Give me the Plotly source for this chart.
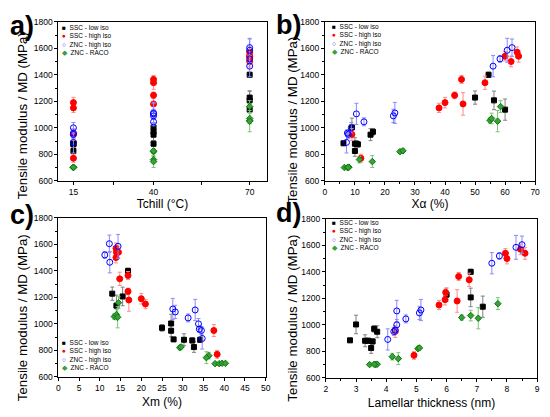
import plotly.graph_objects as go
from plotly.subplots import make_subplots

# Tchill of every sample (same order in all series)
tchill = [15, 15, 15, 15, 40, 40, 40, 40, 70, 70, 70, 70]

series_names = ["SSC - low iso", "SSC - high iso", "ZNC - high iso", "ZNC - RACO"]

# tensile modulus MD (MPa), its error, and the three structural parameters
ssc_low_mod = [883, 825, 880, 875, 1003, 970, 948, 880, 1228, 1400, 1207, 1137]
ssc_low_err = [15, 40, 45, 20, 70, 25, 45, 20, 50, 20, 70, 80]
ssc_low_xa = [6.2, 10.0, 10.0, 11.0, 9.0, 16.0, 15.2, 10.5, 50.0, 54.5, 56.3, 60.0]
ssc_low_xm = [27.8, 32.7, 30.3, 32.3, 27.2, 25.0, 27.2, 34.2, 13.0, 16.8, 15.5, 14.0]
ssc_low_lam = [2.8, 3.5, 3.3, 3.55, 3.0, 3.6, 3.7, 3.4, 6.0, 6.8, 6.8, 7.2]

ssc_high_mod = [1190, 1150, 770, 950, 1365, 1340, 1245, 1180, 1570, 1540, 1540, 1500]
ssc_high_err = [40, 35, 30, 45, 30, 50, 25, 85, 40, 35, 45, 40]
ssc_high_xa = [40.0, 38.0, 12.0, 9.0, 45.5, 53.3, 43.2, 46.0, 64.0, 60.0, 64.5, 62.0]
ssc_high_xm = [20.0, 21.0, 38.3, 37.5, 16.8, 14.8, 16.8, 17.0, 13.9, 14.0, 14.5, 13.9]
ssc_high_lam = [5.95, 5.75, 4.92, 4.3, 6.4, 6.75, 5.97, 6.35, 8.45, 7.95, 8.6, 8.0]

znc_high_mod = [890, 960, 950, 1000, 1105, 1045, 1090, 1112, 1465, 1520, 1585, 1605]
znc_high_err = [80, 25, 30, 40, 80, 30, 50, 80, 80, 25, 90, 65]
znc_high_xa = [7.2, 7.5, 7.8, 8.8, 10.5, 13.0, 22.8, 23.3, 56.0, 58.3, 60.7, 62.3]
znc_high_xm = [34.7, 34.0, 34.5, 33.8, 33.0, 31.3, 28.2, 27.6, 12.4, 11.2, 14.4, 12.3]
znc_high_lam = [4.05, 4.3, 4.25, 4.35, 4.35, 4.65, 5.1, 5.15, 7.5, 7.75, 8.3, 8.5]

znc_raco_mod = [700, 700, 703, 702, 760, 745, 820, 826, 1055, 1070, 1050, 1160]
znc_raco_err = [8, 8, 10, 8, 25, 45, 12, 15, 20, 40, 80, 45]
znc_raco_xa = [6.5, 7.5, 8.0, 7.8, 11.5, 15.8, 25.0, 26.0, 55.0, 55.5, 57.5, 58.5]
znc_raco_xm = [37.8, 38.8, 39.5, 40.3, 36.3, 35.7, 29.3, 29.6, 13.5, 14.0, 14.3, 14.5]
znc_raco_lam = [3.45, 3.65, 3.7, 3.6, 4.2, 4.4, 5.05, 5.1, 6.5, 6.8, 7.05, 7.7]

FONT = "Liberation Sans, Arial, sans-serif"
W, H = 542, 409  # page body keeps an 8px margin

styles = [
    dict(symbol="square", color="#000000", line="#000000", err="#808080", size=5),
    dict(symbol="circle", color="#ff0000", line="#ff0000", err="#ff8a8a", size=6),
    dict(symbol="circle-open", color="#0000ff", line="#0000ff", err="#8a8aff", size=6),
    dict(symbol="diamond", color="#3aa03a", line="#0a7a0a", err="#7cc47c", size=5),
]

data = [
    (ssc_low_mod, ssc_low_err, ssc_low_xa, ssc_low_xm, ssc_low_lam),
    (ssc_high_mod, ssc_high_err, ssc_high_xa, ssc_high_xm, ssc_high_lam),
    (znc_high_mod, znc_high_err, znc_high_xa, znc_high_xm, znc_high_lam),
    (znc_raco_mod, znc_raco_err, znc_raco_xa, znc_raco_xm, znc_raco_lam),
]

fig = make_subplots(rows=2, cols=2)

for name, st, (mod, err, xa, xm, lam) in zip(series_names, styles, data):
    for (r, c), xv in zip([(1, 1), (1, 2), (2, 1), (2, 2)], [tchill, xa, xm, lam]):
        fig.add_trace(go.Scatter(
            x=xv, y=mod, mode="markers", name=name, showlegend=False,
            marker=dict(symbol=st["symbol"], color=st["color"], size=st["size"],
                        line=dict(color=st["line"], width=1)),
            error_y=dict(type="data", array=err, color=st["err"], thickness=1, width=2),
        ), row=r, col=c)

axis_common = dict(showline=True, linecolor="black", linewidth=1, mirror=True,
                   ticks="outside", ticklen=3, tickcolor="black", showgrid=False,
                   zeroline=False, tickfont=dict(family=FONT, size=8.5, color="black"))

yaxis_common = dict(axis_common, range=[600, 1800], dtick=200,
                    minor=dict(dtick=100, ticks="outside", ticklen=2, tickcolor="black"))

def xt(text, standoff):
    return dict(text=text, standoff=standoff, font=dict(family=FONT, size=12, color="black"))

def px(x):
    return x / W

def py(y):
    return 1 - y / H

fig.update_layout(
    width=W, height=H, plot_bgcolor="white", paper_bgcolor="white",
    margin=dict(l=0, r=0, t=0, b=0),
    xaxis=dict(axis_common, domain=[px(49), px(260)], range=[10.3, 75.3],
               tickvals=[15, 40, 70],
               minor=dict(tickvals=[27.5, 55], ticks="outside", ticklen=3, tickcolor="black"),
               title=xt("Tchill (°C)", 2)),
    xaxis2=dict(axis_common, domain=[px(319), px(532)], range=[0, 70], dtick=10,
                minor=dict(dtick=5, ticks="outside", ticklen=2, tickcolor="black"),
                title=xt("Xα (%)", 3)),
    xaxis3=dict(axis_common, domain=[px(49), px(259)], range=[0, 50], dtick=5,
                title=xt("Xm (%)", 5)),
    xaxis4=dict(axis_common, domain=[px(320), px(534)], range=[2, 9], dtick=1,
                minor=dict(dtick=0.5, ticks="outside", ticklen=2, tickcolor="black"),
                title=xt("Lamellar thickness (nm)", 5)),
    yaxis=dict(yaxis_common, domain=[py(172), py(9)]),
    yaxis2=dict(yaxis_common, domain=[py(172), py(9)]),
    yaxis3=dict(yaxis_common, domain=[py(373), py(210)]),
    yaxis4=dict(yaxis_common, domain=[py(374), py(211)]),
)

# y-axis titles
for x, y in [(13, 105), (286, 110), (13, 312), (286, 313)]:
    fig.add_annotation(xref="paper", yref="paper", x=px(x), y=py(y), textangle=-90,
                       text="Tensile modulus / MD (MPa)", showarrow=False,
                       xanchor="center", yanchor="middle",
                       font=dict(family=FONT, size=13.3, color="black"))

# legends drawn as text blocks
glyphs = ["■", "●", "○", "◆"]
legend_text = "<br>".join(
    f'<span style="color:{st["color"]}">{g}</span>  {n}'
    for g, st, n in zip(glyphs, styles, series_names))

legend_pos = [(51, 9, "top"), (324, 8, "top"), (51, 369, "bottom"), (324, 209, "top")]
for x, y, ya in legend_pos:
    fig.add_annotation(xref="paper", yref="paper", x=px(x), y=py(y), xanchor="left",
                       yanchor=ya, text=legend_text, showarrow=False, align="left",
                       font=dict(family=FONT, size=6.5, color="black"))

for lab, x, y in [("a)", -2, 13), ("b)", 267, 12), ("c)", -2, 207), ("d)", 267, 205)]:
    fig.add_annotation(xref="paper", yref="paper", x=px(x), y=py(y), xanchor="left",
                       yanchor="middle", text=f"<b>{lab}</b>", showarrow=False,
                       font=dict(family=FONT, size=27, color="black"))

fig.write_html("out.html")
